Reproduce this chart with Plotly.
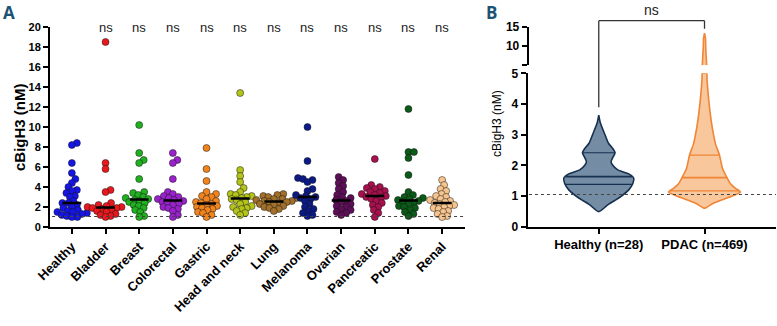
import numpy as np
import plotly.graph_objects as go

# ---------------- data ----------------
categories = ["Healthy", "Bladder", "Breast", "Colorectal", "Gastric", "Head and neck",
              "Lung", "Melanoma", "Ovarian", "Pancreatic", "Prostate", "Renal"]

healthy = [8.4, 8.2, 6.4, 5.4, 4.8, 4.4, 4.0, 3.7, 3.6, 3.4, 3.1, 3.0, 2.6, 2.4, 2.4, 2.2, 2.0,
           1.9, 1.7, 1.6, 1.5, 1.5, 1.4, 1.3, 1.2, 1.1, 1.0, 1.0]
bladder = [18.5, 6.4, 5.8, 3.7, 3.5, 2.4, 2.2, 2.1, 2.0, 2.0, 1.9, 1.9, 1.8, 1.7, 1.6, 1.5, 1.3,
           1.2, 1.1, 1.0]
breast = [10.2, 7.4, 6.7, 6.4, 4.8, 3.5, 3.4, 3.2, 3.0, 2.9, 2.8, 2.7, 2.6, 2.5, 2.4, 2.2, 2.1,
          1.9, 1.7, 1.5, 1.1, 1.0]
colorectal = [7.4, 6.7, 6.4, 4.8, 3.5, 3.3, 3.1, 3.0, 2.9, 2.8, 2.7, 2.6, 2.5, 2.4, 2.3, 2.2, 2.0,
              1.9, 1.8, 1.6, 1.2, 1.0]
gastric = [7.9, 5.8, 4.6, 3.5, 3.3, 3.1, 3.0, 2.8, 2.6, 2.5, 2.4, 2.3, 2.2, 2.1, 2.0, 1.9, 1.8,
           1.7, 1.5, 1.4, 1.2, 1.0]
head_neck = [13.4, 5.7, 5.1, 4.5, 3.9, 3.5, 3.3, 3.2, 3.1, 3.0, 2.9, 2.8, 2.7, 2.5, 2.3, 2.1, 2.0,
             1.9, 1.8, 1.6, 1.4, 1.2]
lung = [3.3, 3.2, 3.1, 3.0, 2.9, 2.8, 2.8, 2.7, 2.6, 2.6, 2.5, 2.5, 2.4, 2.3, 2.2, 2.1, 2.0, 1.9,
        1.8, 1.6]
melanoma = [10.0, 6.6, 4.9, 4.8, 4.7, 4.5, 3.8, 3.6, 3.2, 3.1, 3.0, 2.9, 2.8, 2.6, 2.3, 2.0, 1.8,
            1.6, 1.4, 1.2, 1.1]
ovarian = [5.0, 4.7, 4.4, 4.1, 3.8, 3.5, 3.2, 3.0, 2.9, 2.7, 2.6, 2.5, 2.3, 2.1, 2.0, 1.8, 1.7,
           1.5, 1.4, 1.2]
pancreatic = [6.8, 4.2, 4.0, 3.9, 3.8, 3.6, 3.5, 3.4, 3.3, 3.2, 3.1, 3.0, 2.9, 2.8, 2.6, 2.4, 2.2,
              2.0, 1.7, 1.4, 1.0]
prostate = [11.8, 7.5, 7.5, 6.9, 5.2, 3.5, 3.2, 3.0, 2.9, 2.8, 2.7, 2.6, 2.5, 2.4, 2.3, 2.1, 2.0,
            1.9, 1.7, 1.5, 1.3, 1.1]
renal = [4.7, 4.2, 3.8, 3.6, 3.3, 3.1, 3.0, 2.8, 2.7, 2.6, 2.5, 2.4, 2.3, 2.2, 2.1, 2.0, 1.9, 1.8,
         1.6, 1.5, 1.3, 1.1, 1.0]
group_values = [healthy, bladder, breast, colorectal, gastric, head_neck, lung, melanoma,
                ovarian, pancreatic, prostate, renal]
sig_labels = ["", "ns", "ns", "ns", "ns", "ns", "ns", "ns", "ns", "ns", "ns", "ns"]
reference_level = 1.05

# Panel B: violin density profiles (level in nM, relative half-width)
violin_groups = ["Healthy (n=28)", "PDAC (n=469)"]
healthy_levels = [0.49, 0.71, 0.98, 1.2, 1.4, 1.58, 1.72, 1.85, 2.0, 2.12, 2.25, 2.41, 2.55,
                  2.72, 3.04, 3.37, 3.64]
healthy_density = [0, 9, 22, 30, 34, 35, 30, 19, 14, 12.3, 14, 16.3, 14, 9.7, 5.7, 1.7, 0]
healthy_quartiles = [1.38, 1.63, 2.41]
pdac_levels = [0.6, 0.75, 0.87, 1.0, 1.13, 1.25, 1.4, 1.6, 1.9, 2.33, 2.7, 3.0, 3.5, 4.1, 4.5,
               4.8, 5.0, 6.0, 8.0, 10.0, 12.0, 13.3]
pdac_density = [0, 8, 17, 28, 36, 31, 26, 22.5, 18, 15, 11, 9, 6.5, 4.3, 3.2, 2.5, 2.2, 1.8, 1.5,
                1.2, 1.0, 0]
pdac_quartiles = [1.17, 1.6, 2.33]
violin_sig = "ns"

# ---------------- styling / layout ----------------
W, H = 777, 326
FONT = "Liberation Sans, Arial, sans-serif"
colors = ["#1515e6", "#e8191e", "#20b020", "#9a22cc", "#f2841e", "#b5c41a",
          "#a2702a", "#0b1a86", "#5e0e58", "#a8104e", "#0a5a18", "#f7c48e"]

def px(xp):
    return xp / W

def py(yp):
    return 1 - yp / H

# panel A pixel box
A_L, A_R, A_T, A_B = 50, 465, 27, 227
A_XR = [-0.65, 11.68]
A_YR = [0, 20]
# panel B pixel boxes
B_L, B_R = 527.7, 776
B_BOT_T, B_BOT_B = 73.3, 226.7     # 0..5
B_TOP_T, B_TOP_B = 26.7, 65.3      # 5..15
B_XR = [-0.672, 1.676]

ppx = (A_R - A_L) / (A_XR[1] - A_XR[0])
ppy = (A_B - A_T) / (A_YR[1] - A_YR[0])
DIAM = 7.0
SEP = DIAM * 0.72


def beeswarm(vals):
    vals = np.asarray(vals, float)
    order = np.argsort(vals)
    placed = []
    offs = np.zeros(len(vals))
    for idx in order:
        yv = vals[idx] * ppy
        chosen = None
        k = 0
        while chosen is None:
            for s in ([0] if k == 0 else [1, -1]):
                o = s * k * 0.5
                if all((o - a) ** 2 + (yv - b) ** 2 >= SEP ** 2 for a, b in placed):
                    chosen = o
                    break
            k += 1
        placed.append((chosen, yv))
        offs[idx] = chosen / ppx
    return offs


fig = go.Figure()

for i, (name, vals) in enumerate(zip(categories, group_values)):
    offs = beeswarm(vals)
    fig.add_trace(go.Scatter(
        x=i + offs, y=vals, mode="markers", xaxis="x", yaxis="y",
        marker=dict(size=DIAM, color=colors[i], line=dict(color="rgba(20,20,20,0.7)", width=0.7)),
        showlegend=False, hoverinfo="y", name=name, cliponaxis=False))
    med = float(np.median(vals))
    fig.add_trace(go.Scatter(
        x=[i - 0.28, i + 0.28], y=[med, med], mode="lines", xaxis="x", yaxis="y",
        line=dict(color="black", width=2.5), showlegend=False, hoverinfo="skip"))

# Panel B violins
bx_scale = (B_R - B_L) / (B_XR[1] - B_XR[0])  # px per x unit
violins = [
    (healthy_levels, healthy_density, healthy_quartiles, "rgba(110,134,160,0.95)", "#16304f"),
    (pdac_levels, pdac_density, pdac_quartiles, "rgba(248,196,150,0.95)", "#f08536"),
]
for j, (lv, dens, qs, fill, edge) in enumerate(violins):
    lv = np.asarray(lv, float)
    hw = np.asarray(dens, float) / bx_scale
    low = lv <= 5.0
    xs = np.concatenate([j + hw[low], (j - hw[low])[::-1]])
    ys = np.concatenate([lv[low], lv[low][::-1]])
    fig.add_trace(go.Scatter(
        x=xs, y=ys, mode="lines", fill="toself", fillcolor=fill, xaxis="x2", yaxis="y3",
        line=dict(color=edge, width=1.6, shape="spline", smoothing=0.6),
        showlegend=False, hoverinfo="skip"))
    high = lv >= 5.0
    if high.sum() > 1:
        xs = np.concatenate([j + hw[high], (j - hw[high])[::-1]])
        ys = np.concatenate([lv[high], lv[high][::-1]])
        fig.add_trace(go.Scatter(
            x=xs, y=ys, mode="lines", fill="toself", fillcolor=fill, xaxis="x2", yaxis="y4",
            line=dict(color=edge, width=1.6), showlegend=False, hoverinfo="skip"))
    for k, q in enumerate(qs):
        w = float(np.interp(q, lv, hw))
        fig.add_trace(go.Scatter(
            x=[j - w, j + w], y=[q, q], mode="lines", xaxis="x2", yaxis="y3",
            line=dict(color=edge, width=1.8 if k == 1 else 1.2),
            showlegend=False, hoverinfo="skip"))

axis_common = dict(showgrid=False, zeroline=False, showline=True, linecolor="black",
                   linewidth=2, ticks="outside", ticklen=5, tickwidth=2, tickcolor="black",
                   automargin=False)

def tf(size):
    return dict(family=FONT, size=size, color="black", weight="bold")

fig.update_layout(
    width=W, height=H, margin=dict(l=0, r=0, t=0, b=0, autoexpand=False),
    paper_bgcolor="white", plot_bgcolor="rgba(0,0,0,0)",
    xaxis=dict(domain=[px(A_L), px(A_R)], range=A_XR, tickmode="array",
               tickvals=list(range(len(categories))), ticktext=categories, tickangle=-45,
               anchor="y", tickfont=tf(13), **axis_common),
    yaxis=dict(domain=[py(A_B), py(A_T)], range=A_YR, dtick=2, anchor="x", tickfont=tf(11),
               **axis_common),
    xaxis2=dict(domain=[px(B_L), px(B_R)], range=B_XR, tickmode="array", tickvals=[0, 1],
                ticktext=violin_groups, anchor="y3", tickfont=tf(13), **axis_common),
    yaxis3=dict(domain=[py(B_BOT_B), py(B_BOT_T)], range=[0, 5], dtick=1, anchor="x2",
                tickfont=tf(12), **axis_common),
    yaxis4=dict(domain=[py(B_TOP_B), py(B_TOP_T)], range=[5, 15], tickmode="array",
                tickvals=[5, 10, 15], ticktext=["", "10", "15"], anchor="free", position=px(B_L),
                tickfont=tf(12), **axis_common),
)

# reference dotted lines
fig.add_shape(type="line", xref="x domain", yref="y", x0=0.005, x1=1, y0=reference_level,
              y1=reference_level, line=dict(color="#444", width=1.1, dash="dot"))
fig.add_shape(type="line", xref="x2 domain", yref="y3", x0=0.005, x1=1, y0=reference_level,
              y1=reference_level, line=dict(color="#444", width=1.1, dash="dot"))

# ns labels panel A
for i, lab in enumerate(sig_labels):
    if lab:
        fig.add_annotation(x=i, y=py(28), xref="x", yref="paper", text=lab, showarrow=False,
                           font=dict(family=FONT, size=13, color="#222"),
                           xanchor="center", yanchor="middle")

# Panel B bracket
def y3_paper(v):
    d0, d1 = py(B_BOT_B), py(B_BOT_T)
    return d0 + v / 5 * (d1 - d0)

def y4_paper(v):
    d0, d1 = py(B_TOP_B), py(B_TOP_T)
    return d0 + (v - 5) / 10 * (d1 - d0)

top_y = py(20.7)
bc = dict(color="#333", width=1.3)
fig.add_shape(type="line", xref="x2", yref="paper", x0=0, x1=1, y0=top_y, y1=top_y, line=bc)
fig.add_shape(type="line", xref="x2", yref="paper", x0=0, x1=0, y0=top_y,
              y1=y3_paper(max(healthy_levels) + 0.25), line=bc)
fig.add_shape(type="line", xref="x2", yref="paper", x0=1, x1=1, y0=top_y,
              y1=y4_paper(14.5), line=bc)
fig.add_annotation(x=0.5, y=py(10), xref="x2", yref="paper", text=violin_sig, showarrow=False,
                   font=dict(family=FONT, size=14, color="#222"),
                   xanchor="center", yanchor="middle")

# axis titles
fig.add_annotation(x=px(20), y=py(127), xref="paper", yref="paper", text="<b>cBigH3 (nM)</b>",
                   textangle=-90, showarrow=False, font=dict(family=FONT, size=15, color="black"),
                   xanchor="center", yanchor="middle")
fig.add_annotation(x=px(497), y=py(124), xref="paper", yref="paper", text="cBigH3 (nM)",
                   textangle=-90, showarrow=False, font=dict(family=FONT, size=12, color="black"),
                   xanchor="center", yanchor="middle")

# panel letters
for lab, xx in (("A", 9), ("B", 491)):
    fig.add_annotation(x=px(xx), y=py(12), xref="paper", yref="paper", text="<b>" + lab + "</b>",
                       showarrow=False, xanchor="center", yanchor="middle",
                       font=dict(family="Open Sans, sans-serif", size=17, color="#1c5274"))

fig.write_html("out.html", config={"displayModeBar": False},
               post_script="document.body.style.margin='0';document.body.style.overflow='hidden';")
